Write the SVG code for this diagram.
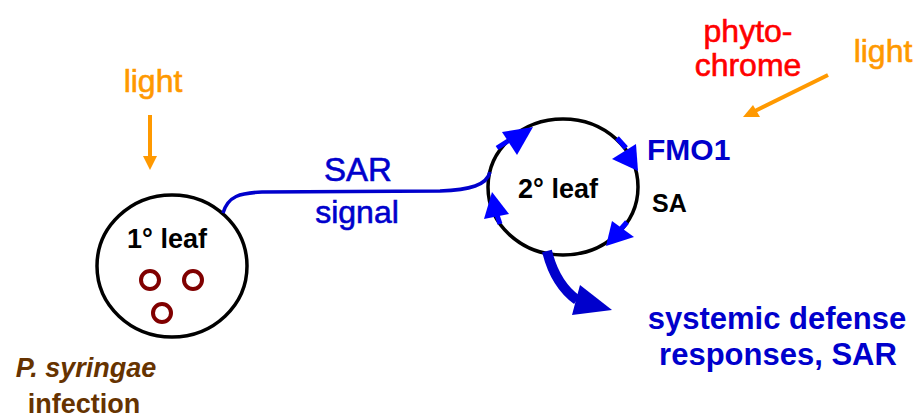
<svg xmlns="http://www.w3.org/2000/svg" width="915" height="419" viewBox="0 0 915 419">
  <style>
    text { font-family: "Liberation Sans", Arial, sans-serif; }
    .leaf { fill: #ffffff; stroke: #000000; stroke-width: 3.5; }
    .spot { fill: none; stroke: #800000; stroke-width: 4; }
    .lbl-b { font-weight: bold; fill: #000000; }
    .blue { fill: #0000cc; }
    .reg-blue { fill: #0000cc; stroke: #0000cc; stroke-width: 0.6; }
    .orange { fill: #ff9900; stroke: #ff9900; stroke-width: 0.6; }
    .red { fill: #ff0000; stroke: #ff0000; stroke-width: 0.6; }
    .brown { fill: #663300; font-weight: bold; }
    .arr { fill: #0000ff; }
    .shaft { stroke: #0000ff; stroke-width: 5; fill: none; }
  </style>

  <!-- primary (infected) leaf -->
  <g id="leaf1">
    <ellipse class="leaf" cx="172" cy="266" rx="75" ry="71"/>
    <text class="lbl-b" x="167" y="248" font-size="27" text-anchor="middle">1° leaf</text>
    <circle class="spot" cx="150" cy="280" r="9"/>
    <circle class="spot" cx="193" cy="280" r="9"/>
    <circle class="spot" cx="162" cy="313" r="9"/>
  </g>

  <!-- secondary (systemic) leaf -->
  <g id="leaf2">
    <ellipse class="leaf" cx="563" cy="187" rx="75" ry="68"/>
    <text class="lbl-b" x="558" y="198" font-size="27" text-anchor="middle">2° leaf</text>
  </g>

  <!-- light and pathogen labels -->
  <g id="light-left">
    <text class="orange" x="153" y="92" font-size="32" text-anchor="middle">light</text>
  </g>
  <g id="pathogen">
    <text class="brown" x="86" y="377" font-size="27" font-style="italic" text-anchor="middle">P. syringae</text>
    <text class="brown" x="84" y="413" font-size="27" text-anchor="middle">infection</text>
  </g>
  <g id="phytochrome">
    <text class="red" x="748" y="42" font-size="32" text-anchor="middle">phyto-</text>
    <text class="red" x="748" y="76" font-size="32" text-anchor="middle">chrome</text>
  </g>
  <g id="light-right">
    <text class="orange" x="883" y="62" font-size="32" text-anchor="middle">light</text>
  </g>
  <g id="fmo1">
    <text class="blue" x="647" y="160" font-size="30" font-weight="bold">FMO1</text>
  </g>
  <g id="sa">
    <text class="lbl-b" x="652" y="212" font-size="25">SA</text>
  </g>
  <g id="sar-signal">
    <text class="reg-blue" x="358" y="181" font-size="33" text-anchor="middle">SAR</text>
    <text class="reg-blue" x="357" y="223" font-size="32" text-anchor="middle">signal</text>
  </g>
  <g id="responses">
    <text class="blue" x="777" y="329" font-size="31" font-weight="bold" text-anchor="middle">systemic defense</text>
    <text class="blue" x="778" y="365" font-size="31" font-weight="bold" text-anchor="middle">responses, SAR</text>
  </g>

  <!-- connectors -->
  <g id="connectors">
    <!-- light onto primary leaf -->
    <line x1="150" y1="115" x2="150" y2="158" stroke="#ff9900" stroke-width="4"/>
    <polygon fill="#ff9900" points="143,156 157,156 150,170"/>
    <!-- light onto phytochrome -->
    <line x1="828" y1="75" x2="755" y2="111" stroke="#ff9900" stroke-width="4"/>
    <polygon fill="#ff9900" points="743,117 753,105 760,117"/>
    <!-- systemic signal between leaves -->
    <path d="M 223 213 C 228 196 240 193 262 192 L 440 191 C 470 190 487 185 490 172" fill="none" stroke="#0000cc" stroke-width="3.5"/>
    <!-- cycle around the secondary leaf -->
    <line class="shaft" x1="497" y1="148" x2="508" y2="141"/>
    <polygon class="arr" points="502,132 533,127 517,155"/>
    <line class="shaft" x1="617" y1="138" x2="626" y2="148"/>
    <polygon class="arr" points="612,159 638,171 636,144"/>
    <line class="shaft" x1="627" y1="222" x2="621" y2="229"/>
    <polygon class="arr" points="612,221 634,237 606,246"/>
    <line class="shaft" x1="500" y1="224" x2="497" y2="215"/>
    <polygon class="arr" points="492,192 484,219 509,214"/>
    <!-- output to defense responses -->
    <path d="M 547 251 Q 555 284 577 300" fill="none" stroke="#0000cc" stroke-width="10"/>
    <polygon fill="#0000cc" points="580,285 612,310 572,315"/>
  </g>
</svg>
